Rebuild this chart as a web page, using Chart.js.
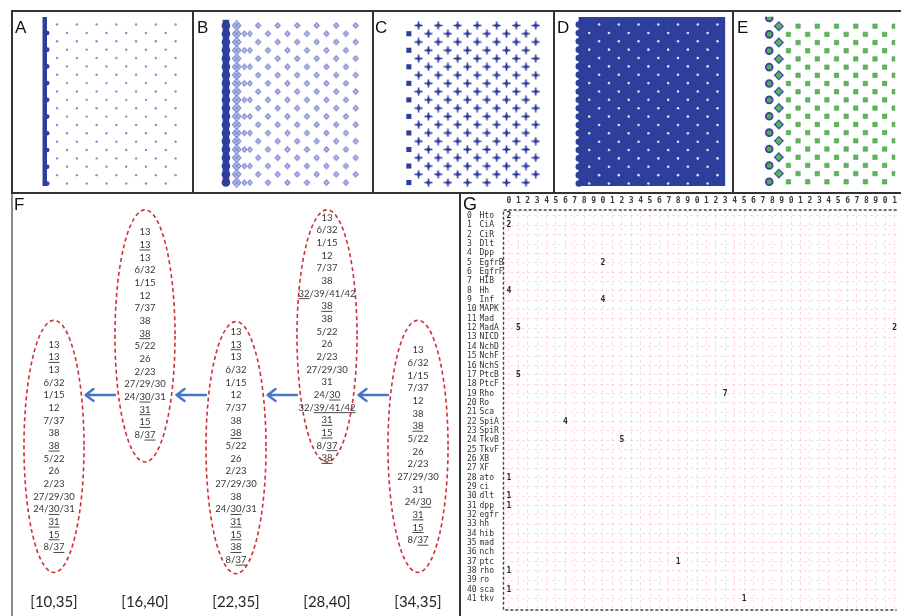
<!DOCTYPE html>
<html>
<head>
<meta charset="utf-8">
<title>Lattice patterns and stable states</title>
<script src="https://cdn.jsdelivr.net/npm/chart.js@4.4.1/dist/chart.umd.min.js"></script>
<style>
  body { margin: 0; background: #fff; }
  #fig { position: relative; width: 901px; height: 616px; overflow: hidden; background: #fff; }
  #fig canvas { position: absolute; }
  .rule { position: absolute; background: #333; }
  .tag { position: absolute; font-family: "Liberation Sans", Arial, sans-serif; font-size: 17px; line-height: 17px; color: #111; }
</style>
</head>
<body>
<div id="fig">
  <canvas id="pA" width="181" height="182" style="left:12px;top:11px"></canvas>
  <canvas id="pB" width="180" height="182" style="left:193px;top:11px"></canvas>
  <canvas id="pC" width="181" height="182" style="left:373px;top:11px"></canvas>
  <canvas id="pD" width="179" height="182" style="left:554px;top:11px"></canvas>
  <canvas id="pE" width="168" height="182" style="left:733px;top:11px"></canvas>
  <canvas id="pF" width="448" height="423" style="left:12px;top:193px"></canvas>
  <canvas id="pG" width="441" height="423" style="left:460px;top:193px"></canvas>

  <div class="rule" style="left:11px;top:10px;width:891px;height:2px"></div>
  <div class="rule" style="left:11px;top:192px;width:891px;height:2px"></div>
  <div class="rule" style="left:11px;top:10px;width:2px;height:184px"></div>
  <div class="rule" style="left:192px;top:10px;width:2px;height:184px"></div>
  <div class="rule" style="left:372px;top:10px;width:2px;height:184px"></div>
  <div class="rule" style="left:553px;top:10px;width:2px;height:184px"></div>
  <div class="rule" style="left:732px;top:10px;width:2px;height:184px"></div>
  <div class="rule" style="left:11px;top:194px;width:2px;height:422px;background:#8a8a8a"></div>
  <div class="rule" style="left:459px;top:194px;width:2px;height:422px"></div>

  <div class="tag" style="left:15px;top:19px">A</div>
  <div class="tag" style="left:197px;top:19px">B</div>
  <div class="tag" style="left:375px;top:19px">C</div>
  <div class="tag" style="left:557px;top:19px">D</div>
  <div class="tag" style="left:737px;top:19px">E</div>
  <div class="tag" style="left:14px;top:196px">F</div>
  <div class="tag" style="left:463px;top:195px;font-size:18px;line-height:18px">G</div>
</div>

<script>
// ---------- A-E: cell lattice (column index, row index) ----------
const rows = [0, 1, 2, 3, 4, 5, 6, 7, 8, 9, 10, 11, 12, 13, 14, 15, 16, 17, 18, 19];
const eRows = [-1, 0, 1, 2, 3, 4, 5, 6, 7, 8, 9, 10, 11, 12, 13, 14, 15, 16, 17, 18, 19];

const aStripCol = -1.25;
const aStripRows = [-0.9, 19.3];
const aEdgeCols = [-1];
const aDotCols = [0, 1, 2, 3, 4, 5, 6, 7, 8, 9, 10, 11, 12];

const bStripCol = -1.3;
const bStripRows = [-0.7, 19.1];
const bHatchCol = -0.2;
const bPairCols = [1];
const bGemCols = [2, 3, 4, 5, 6, 7, 8, 9, 10, 11, 12];

const cSquareCols = [-1];
const cPlusCols = [0, 1, 2, 3, 4, 5, 6, 7, 8, 9, 10, 11, 12];

const dBlockCols = [-2.1, 12.8];
const dBlockRows = [-0.9, 19.3];
const dEdgeCol = -2.05;
const dDotCols = [-1, 0, 1, 2, 3, 4, 5, 6, 7, 8, 9, 10, 11, 12];

const eCircleCols = [-1];
const eDiamondCols = [0];
const eSquareCols = [1, 2, 3, 4, 5, 6, 7, 8, 9, 10, 11, 12];

// ---------- F: attractor stacks per window ----------
const windows = ['[10,35]', '[16,40]', '[22,35]', '[28,40]', '[34,35]'];
const stack1 = ['13', '_13_', '13', '6/32', '1/15', '12', '7/37', '38', '_38_', '5/22', '26', '2/23', '27/29/30', '24/_30_/31', '_31_', '_15_', '8/_37_'];
const stack2 = ['13', '_13_', '13', '6/32', '1/15', '12', '7/37', '38', '_38_', '5/22', '26', '2/23', '27/29/30', '24/_30_/31', '_31_', '_15_', '8/_37_'];
const stack3 = ['13', '_13_', '13', '6/32', '1/15', '12', '7/37', '38', '_38_', '5/22', '26', '2/23', '27/29/30', '38', '24/_30_/31', '_31_', '_15_', '_38_', '8/_37_'];
const stack4 = ['13', '6/32', '1/15', '12', '7/37', '38', '_32_/39/41/42', '_38_', '38', '5/22', '26', '2/23', '27/29/30', '31', '24/_30_', '32/_39/41/42_', '_31_', '_15_', '8/_37_', '_38_'];
const stack5 = ['13', '6/32', '1/15', '7/37', '12', '38', '_38_', '5/22', '26', '2/23', '27/29/30', '31', '24/_30_', '_31_', '_15_', '8/_37_'];

// ---------- G: node x column counts ----------
const nodeNames = ['Hto', 'CiA', 'CiR', 'Dlt', 'Dpp', 'EgfrB', 'EgfrF', 'HIB', 'Hh', 'Inf',
  'MAPK', 'Mad', 'MadA', 'NICD', 'NchD', 'NchF', 'NchS', 'PtcB', 'PtcF', 'Rho',
  'Ro', 'Sca', 'SpiA', 'SpiR', 'TkvB', 'TkvF', 'XB', 'XF', 'ato', 'ci',
  'dlt', 'dpp', 'egfr', 'hh', 'hib', 'mad', 'nch', 'ptc', 'rho', 'ro', 'sca', 'tkv'];
const colIndex = [0, 1, 2, 3, 4, 5, 6, 7, 8, 9, 10, 11, 12, 13, 14, 15, 16, 17, 18, 19, 20,
  21, 22, 23, 24, 25, 26, 27, 28, 29, 30, 31, 32, 33, 34, 35, 36, 37, 38, 39, 40, 41];
const cellRows = [0, 1, 5, 8, 9, 12, 12, 17, 19, 22, 24, 28, 30, 31, 37, 38, 40, 41];
const cellCols = [0, 0, 10, 0, 10, 1, 41, 1, 23, 6, 12, 0, 0, 0, 18, 0, 0, 25];
const cellCounts = [2, 2, 2, 4, 4, 5, 2, 5, 7, 4, 5, 1, 1, 1, 1, 1, 1, 1];

// ---------- layout ----------
const navy = '#2e3e9c';
const colStep = 10.33, rowStep = 8.75, latticeLeft = 43, latticeTop = 10, topHeight = 182;
const stackCenters = [19.97, 11.1, 19.97, 11.44, 19.9];
const ellipseCenters = [20.0, 11.28, 20.1, 11.28, 20.0];
const ellipseRx = 0.33, ellipseRy = 9.95, arrowLine = 15.94, windowLine = 32.28;

// text drawn at point positions, "_x_" = underlined part
function drawMarked(ctx, str, cx, cy, ulOffset) {
  const parts = String(str).split('_');
  const total = parts.reduce((w, p) => w + ctx.measureText(p).width, 0);
  let x = cx - total / 2;
  parts.forEach((p, k) => {
    const w = ctx.measureText(p).width;
    ctx.fillText(p, x, cy);
    if (k % 2 === 1 && p) ctx.fillRect(x, cy + ulOffset, w, 0.9);
    x += w;
  });
}

Chart.register({
  id: 'pointText',
  afterDatasetsDraw(chart) {
    const ctx = chart.ctx;
    chart.data.datasets.forEach((ds, di) => {
      if (!ds.texts) return;
      const meta = chart.getDatasetMeta(di);
      ctx.save();
      ctx.font = ds.textFont;
      ctx.fillStyle = ds.textColor;
      ctx.textAlign = 'left';
      ctx.textBaseline = 'middle';
      meta.data.forEach((pt, i) => drawMarked(ctx, ds.texts[i], pt.x, pt.y, ds.ulOffset || 4));
      ctx.restore();
    });
  }
});

function lattice(cols, rowList, everyRow) {
  const pts = [];
  cols.forEach(u => rowList.forEach(v => {
    if (everyRow || Math.abs(u + v) % 2 === 0) pts.push({x: u, y: v});
  }));
  return pts;
}

function glyph(w, h, paint) {
  const c = document.createElement('canvas');
  c.width = w; c.height = h;
  paint(c.getContext('2d'));
  return c;
}
function diamondPath(g, cx, cy, rx, ry) {
  g.beginPath();
  g.moveTo(cx, cy - ry); g.lineTo(cx + rx, cy); g.lineTo(cx, cy + ry); g.lineTo(cx - rx, cy);
  g.closePath();
}
const plusGlyph = glyph(9, 9, g => {
  g.fillStyle = navy;
  g.fillRect(3.7, 0.5, 1.6, 8); g.fillRect(0.5, 3.7, 8, 1.6);
  diamondPath(g, 4.5, 4.5, 2.6, 2.6); g.fill();
});
const gemGlyph = glyph(9, 9, g => {
  diamondPath(g, 4.5, 4.5, 3.3, 3.4); g.fillStyle = '#7f88d3'; g.fill();
  diamondPath(g, 4.5, 4.5, 1.3, 1.4); g.fillStyle = '#d2d5f2'; g.fill();
});
const pairGlyph = glyph(15, 9, g => {
  [3.5, 9].forEach(cx => {
    diamondPath(g, cx, 4.5, 3.0, 3.4); g.fillStyle = '#7f88d3'; g.fill();
    diamondPath(g, cx, 4.5, 1.2, 1.4); g.fillStyle = '#d2d5f2'; g.fill();
  });
});
const hatchGlyph = glyph(11, 10, g => {
  diamondPath(g, 5.5, 5, 4.4, 4.8); g.fillStyle = '#b8bdea'; g.fill();
  g.strokeStyle = '#6a74c8'; g.lineWidth = 1; g.stroke();
  g.beginPath(); g.moveTo(3.3, 2.8); g.lineTo(7.7, 7.2); g.moveTo(7.7, 2.8); g.lineTo(3.3, 7.2); g.stroke();
});

// datasets listed bottom-up: later ones are drawn on top
function latticeChart(id, width, datasets) {
  datasets.forEach((ds, i) => { ds.order = datasets.length - i; });
  return new Chart(document.getElementById(id), {
    type: 'scatter',
    data: {datasets},
    options: {
      responsive: false, animation: false, events: [],
      layout: {padding: 0},
      plugins: {legend: {display: false}, tooltip: {enabled: false}},
      scales: {
        x: {type: 'linear', display: false, min: -latticeLeft / colStep, max: (width - latticeLeft) / colStep},
        y: {type: 'linear', display: false, min: -latticeTop / rowStep, max: (topHeight - latticeTop) / rowStep, reverse: true}
      }
    }
  });
}

const stripLine = (col, rowList, w) => ({
  data: lattice([col], rowList, true), showLine: true, borderColor: navy,
  borderWidth: w, borderCapStyle: 'butt', pointRadius: 0
});

latticeChart('pA', 181, [
  stripLine(aStripCol, aStripRows, 4.5),
  {data: lattice(aEdgeCols, rows), pointRadius: 2.3, backgroundColor: navy, borderWidth: 0},
  {data: lattice(aDotCols, rows), pointRadius: 1.2, backgroundColor: '#8890cf', borderWidth: 0}
]);

latticeChart('pB', 180, [
  stripLine(bStripCol, bStripRows, 6.5),
  {data: lattice([bStripCol], rows, true), pointRadius: 4.3, backgroundColor: navy, borderWidth: 0},
  {data: lattice([bHatchCol], rows, true), pointStyle: hatchGlyph, pointRadius: 4},
  {data: lattice(bPairCols, rows), pointStyle: pairGlyph, pointRadius: 4},
  {data: lattice(bGemCols, rows), pointStyle: gemGlyph, pointRadius: 3}
]);

latticeChart('pC', 181, [
  {data: lattice(cSquareCols, rows), pointStyle: 'rect', pointRadius: 3.6, backgroundColor: navy, borderWidth: 0},
  {data: lattice(cPlusCols, rows), pointStyle: plusGlyph, pointRadius: 3}
]);

latticeChart('pD', 179, [
  {data: dBlockCols.map(u => ({x: u, y: dBlockRows[0]})), showLine: true, borderWidth: 0, pointRadius: 0, fill: false},
  {data: dBlockCols.map(u => ({x: u, y: dBlockRows[1]})), showLine: true, borderWidth: 0, pointRadius: 0,
    fill: '-1', backgroundColor: navy},
  {data: lattice([dEdgeCol], rows, true), pointRadius: 3.3, backgroundColor: navy, borderWidth: 0},
  {data: lattice(dDotCols, rows), pointRadius: 1.3, backgroundColor: '#d9dcf2', borderWidth: 0}
]);

latticeChart('pE', 168, [
  {data: lattice(eCircleCols, eRows), pointStyle: 'circle', pointRadius: 3.4, backgroundColor: '#57ad55', borderColor: '#34479c', borderWidth: 1.8},
  {data: lattice(eDiamondCols, rows), pointStyle: 'rectRot', pointRadius: 4.3, backgroundColor: '#5db653', borderColor: '#3e54a6', borderWidth: 1.3},
  {data: lattice(eSquareCols, rows), pointStyle: 'rect', pointRadius: 3.1, backgroundColor: '#5cb85a', borderColor: '#48a046', borderWidth: 0.6}
]);

// ---------- F ----------
const stacks = [stack1, stack2, stack3, stack4, stack5];
const stackSets = stacks.map((items, k) => ({
  data: items.map((_, j) => ({x: k, y: stackCenters[k] - (items.length - 1) / 2 + j})),
  texts: items, textFont: '9.5px Lato', textColor: '#363636', ulOffset: 4.6, pointRadius: 0
}));
stackSets.push({
  data: windows.map((_, k) => ({x: k, y: windowLine})),
  texts: windows, textFont: '15px Lato', textColor: '#262626', pointRadius: 0
});

const stackShapes = {
  id: 'stackShapes',
  beforeDatasetsDraw(chart) {
    const {ctx, scales: {x, y}} = chart;
    ctx.save();
    ctx.strokeStyle = '#cf2f3a'; ctx.lineWidth = 1.6; ctx.setLineDash([4, 3]);
    ellipseCenters.forEach((c, i) => {
      const cx = x.getPixelForValue(i), cy = y.getPixelForValue(c);
      const rx = x.getPixelForValue(i + ellipseRx) - cx;
      const ry = Math.abs(y.getPixelForValue(c + ellipseRy) - cy);
      ctx.beginPath(); ctx.ellipse(cx, cy, rx, ry, 0, 0, Math.PI * 2); ctx.stroke();
    });
    ctx.setLineDash([]); ctx.strokeStyle = '#4677c6'; ctx.lineWidth = 2.4;
    ctx.lineCap = 'round'; ctx.lineJoin = 'round';
    const y0 = y.getPixelForValue(arrowLine);
    for (let i = 0; i < windows.length - 1; i++) {
      const xs = x.getPixelForValue(i + 1 - ellipseRx);
      const xe = x.getPixelForValue(i + ellipseRx) + 1.5;
      ctx.beginPath();
      ctx.moveTo(xs, y0); ctx.lineTo(xe, y0);
      ctx.moveTo(xe + 8, y0 - 6); ctx.lineTo(xe, y0); ctx.lineTo(xe + 8, y0 + 6);
      ctx.stroke();
    }
    ctx.restore();
  }
};

new Chart(document.getElementById('pF'), {
  type: 'scatter',
  data: {datasets: stackSets},
  options: {
    responsive: false, animation: false, events: [],
    layout: {padding: 0},
    plugins: {legend: {display: false}, tooltip: {enabled: false}},
    scales: {
      x: {type: 'linear', display: false, min: -0.4615, max: 4.4615},
      y: {type: 'linear', display: false, min: 0, max: 33.386, reverse: true}
    }
  },
  plugins: [stackShapes]
});

// ---------- G ----------
const pink = 'rgba(230, 140, 158, 0.3)';
const mono = {family: 'DejaVu Sans Mono', size: 8};
const gFrame = {
  id: 'gFrame',
  afterDraw(chart) {
    const {ctx, chartArea: a} = chart;
    ctx.save();
    ctx.strokeStyle = '#444'; ctx.lineWidth = 1.4; ctx.setLineDash([3, 2]);
    ctx.beginPath();
    ctx.moveTo(a.right, a.top); ctx.lineTo(a.left, a.top); ctx.lineTo(a.left, a.bottom); ctx.lineTo(a.right, a.bottom);
    ctx.stroke();
    ctx.restore();
  }
};
const rowTicks = s => { s.ticks = nodeNames.map((_, i) => ({value: i})); };

new Chart(document.getElementById('pG'), {
  type: 'scatter',
  data: {
    datasets: [{
      data: cellCols.map((c, i) => ({x: c, y: cellRows[i]})),
      texts: cellCounts, textFont: 'bold 8px "DejaVu Sans Mono"', textColor: '#2a2a2a', pointRadius: 0
    }]
  },
  options: {
    responsive: false, animation: false, events: [],
    layout: {padding: {left: 7, bottom: 6, top: 0, right: 0}},
    plugins: {legend: {display: false}, tooltip: {enabled: false}},
    scales: {
      x: {
        type: 'linear', position: 'top', min: -0.578, max: 41.22,
        afterBuildTicks: s => { s.ticks = colIndex.map(v => ({value: v})); },
        afterFit: s => { s.height = 17; },
        ticks: {autoSkip: false, maxRotation: 0, padding: 4, color: '#3a3a3a',
          font: {family: 'DejaVu Sans Mono', size: 8, weight: 'bold'}, callback: v => String(v % 10)},
        grid: {color: pink, drawTicks: false, borderDash: [3, 3]},
        border: {display: false, dash: [3, 3]}
      },
      y: {
        type: 'linear', position: 'left', weight: 1, min: -0.64, max: 42.18, reverse: true,
        afterBuildTicks: rowTicks,
        afterFit: s => { s.width = 24; },
        ticks: {autoSkip: false, crossAlign: 'far', padding: 0, color: '#333', font: mono,
          callback: v => nodeNames[v]},
        grid: {color: pink, drawTicks: false, borderDash: [3, 3]},
        border: {display: false, dash: [3, 3]}
      },
      yNum: {
        type: 'linear', axis: 'y', position: 'left', weight: 2, min: -0.64, max: 42.18, reverse: true,
        afterBuildTicks: rowTicks,
        afterFit: s => { s.width = 12.5; },
        ticks: {autoSkip: false, crossAlign: 'far', padding: 0, color: '#333', font: mono,
          callback: v => String(v)},
        grid: {display: false, drawTicks: false},
        border: {display: false}
      }
    }
  },
  plugins: [gFrame]
});
</script>
</body>
</html>
